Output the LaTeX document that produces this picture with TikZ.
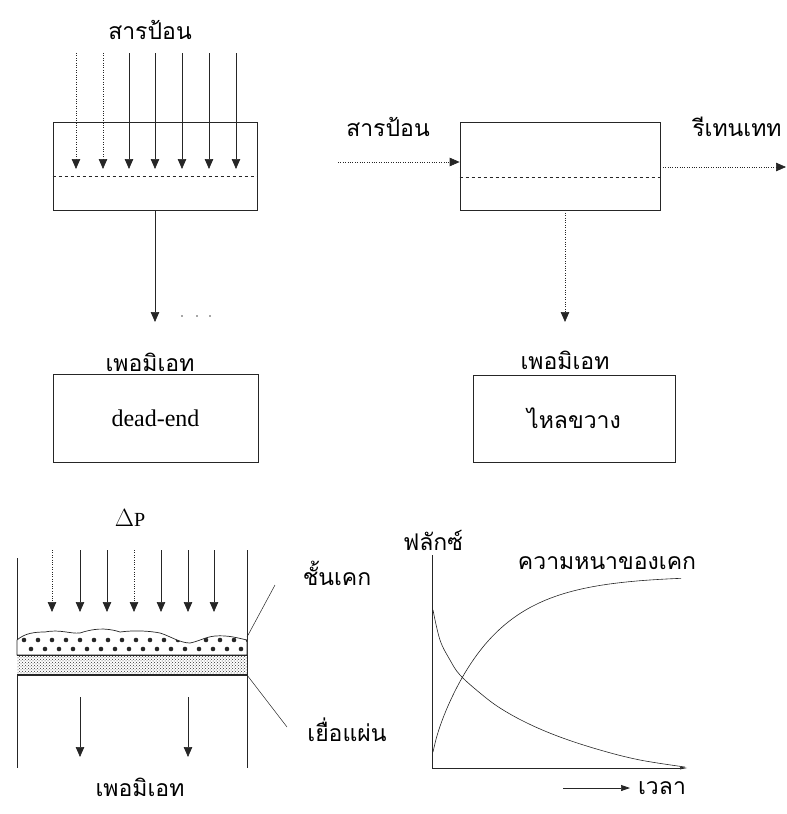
\documentclass[tikz,border=0pt]{standalone}
\usepackage{fontspec}
\setmainfont{Liberation Serif}
\newfontfamily\thai[Script=Thai]{Loma}
\usetikzlibrary{arrows.meta,patterns,calc}
\begin{document}
\begin{tikzpicture}[x=1pt,y=-1pt,
  ln/.style={line width=0.7pt, draw=black!85},
  arr/.style={ln,-{Triangle[length=10pt,width=8.5pt]}},
  dotarr/.style={arr,dash pattern=on 0.8pt off 1.6pt},
  lbl/.style={font=\thai\fontsize{23}{25}\selectfont, inner sep=0pt},
  latin/.style={font=\fontsize{24}{26}\selectfont, inner sep=0pt},
  boxnode/.style={ln, draw, inner sep=0pt},
]
\useasboundingbox (0,0) rectangle (787,814);

% ---------- top left: dead-end module ----------
\node[lbl] (feed1) at (150,30) {สารป้อน};
\node[boxnode, minimum width=204pt, minimum height=88pt] (m1) at (155,166) {};
\draw[ln, dashed] (m1.west |- 0,176) -- (m1.east |- 0,176);
\foreach \x in {76,103} \draw[dotarr] (\x,53) -- (\x,169);
\foreach \x in {129,155,182,209,236} \draw[arr] (\x,53) -- (\x,169);
\coordinate (p1end) at (155,322);
\draw[arr] (m1.south) -- (p1end);
\foreach \x in {182,197,210} \fill[black!70] (\x,316) circle (0.8pt);
\node[lbl] (perm1) at (150,362) {เพอมิเอท};
\node[boxnode, minimum width=205pt, minimum height=88pt] (d1) at (155.5,418) {};
\node[latin] (deadend) at (d1.center) {dead-end};

% ---------- top right: cross-flow module ----------
\node[boxnode, minimum width=200pt, minimum height=88pt] (m2) at (560,166) {};
\draw[ln, dashed] (m2.west |- 0,177) -- (m2.east |- 0,177);
\node[lbl] (feed2) at (388,127) {สารป้อน};
\coordinate (inl) at (338,162);
\draw[dotarr] (inl) -- (m2.west |- inl);
\coordinate (outl) at (786,167);
\draw[dotarr] (m2.east |- outl) -- (outl);
\node[lbl] (ret) at (737,127) {รีเทนเทท};
\coordinate (p2end) at (565,322);
\draw[dotarr] (m2.south -| p2end) -- (p2end);
\node[lbl] (perm2) at (565,360) {เพอมิเอท};
\node[boxnode, minimum width=202pt, minimum height=87pt] (d2) at (574,418.5) {};
\node[lbl] (cross) at (d2.center) {ไหลขวาง};

% ---------- bottom left: cake filtration ----------
\node[latin] (dp) at (130,518) {$\Delta${\fontsize{20}{22}\selectfont P}};
\draw[ln] (17,558) -- (17,768);
\draw[ln] (247,550) -- (247,768);
\foreach \x in {52,134} \draw[dotarr] (\x,550) -- (\x,612);
\foreach \x in {80,107,161,188,214} \draw[arr] (\x,550) -- (\x,612);
% cake layer
\def\cakepath{(17,655) -- (17,640) .. controls (25,633) and (35,632) .. (45,632)
  .. controls (60,629) and (70,634) .. (80,633) .. controls (92,629) and (105,627) .. (120,632)
  .. controls (135,630) and (150,631) .. (160,633) .. controls (170,636) and (180,643) .. (190,643)
  .. controls (200,641) and (205,637) .. (215,636) .. controls (228,635) and (238,638) .. (247,640)
  -- (247,655) -- cycle}
\path[fill=white, draw=black!85, line width=0.7pt] \cakepath;
\begin{scope}
  \clip \cakepath;
  \foreach \x in {24,38,...,250} \fill[black!85] (\x,640) circle (2.3pt);
  \foreach \x in {31,45,...,250} \fill[black!85] (\x,649) circle (2.3pt);
\end{scope}
% membrane
\fill[white] (17,655) rectangle (247,675);
\fill[pattern=crosshatch dots, pattern color=black!80] (17,655) rectangle (247,675);
\draw[ln] (17,655) -- (247,655);
\draw[line width=1.4pt, black!85] (17,675) -- (247,675);
\foreach \x in {80,188} \draw[arr] (\x,697) -- (\x,757);
\node[lbl] (perm3) at (140,787) {เพอมิเอท};
\node[lbl] (cake) at (337,573) {ชั้นเคก};
\node[lbl] (memb) at (347,730) {เยื่อแผ่น};
\coordinate (cakept) at (247,637);
\coordinate (membpt) at (247,675);
\draw[ln, line width=0.5pt] (cakept) -- (275,585);
\draw[ln, line width=0.5pt] (membpt) -- (287,727);

% ---------- bottom right: flux / cake thickness ----------
\coordinate (org) at (432,768);
\coordinate (ytop) at (432,555);
\coordinate (xend) at (688,768);
\draw[ln] (ytop) -- (org);
\draw[ln, -{Latex[length=8pt,width=3pt]}] (org) -- (xend);
\node[lbl] (flux) at (433,540) {ฟลักซ์};
\node[lbl] (thick) at (607,563) {ความหนาของเคก};
\draw[ln, line width=0.6pt] plot[smooth, tension=0.6] coordinates {(433,610) (440,640) (450,660) (460,675) (480,693) (500,708) (527,723) (560,737) (600,750) (640,760) (685,767)};
\draw[ln, line width=0.6pt] plot[domain=0:248, samples=80, smooth] ({433+\x}, {752 - 168*(1-exp(-\x/58)) - 8*(1-exp(-\x/4))});
\coordinate (ta) at (563,788);
\coordinate (tb) at (630,788);
\draw[ln, -{Triangle[length=9pt,width=6pt]}] (ta) -- (tb);
\node[lbl] (time) at (662,788) {เวลา};
\end{tikzpicture}
\end{document}
